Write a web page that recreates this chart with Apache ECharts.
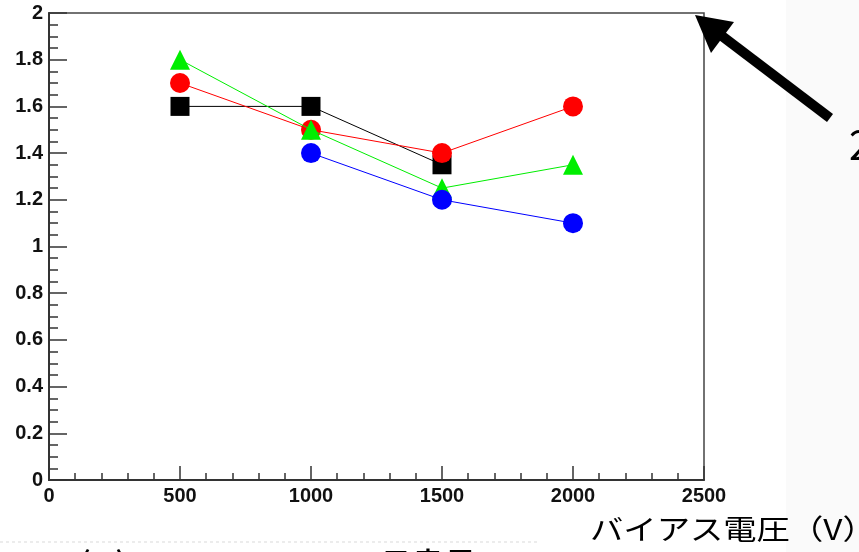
<!DOCTYPE html>
<html>
<head>
<meta charset="utf-8">
<script src="https://cdn.jsdelivr.net/npm/echarts@6/dist/echarts.min.js"></script>
<style>
html,body{margin:0;padding:0;background:#fff;}
#chart{width:859px;height:552px;}
</style>
</head>
<body>
<div id="chart"></div>
<script>
var biasVoltage = [500, 1000, 1500, 2000];
var seriesBlack = [1.6, 1.6, 1.35, null];
var seriesRed = [1.7, 1.5, 1.4, 1.6];
var seriesGreen = [1.8, 1.5, 1.25, 1.35];
var seriesBlue = [null, 1.4, 1.2, 1.1];
var xTicks = [0, 500, 1000, 1500, 2000, 2500];
var yTicks = [0, 0.2, 0.4, 0.6, 0.8, 1, 1.2, 1.4, 1.6, 1.8, 2];
var xAxisTitle = 'バイアス電圧（V）';
var yAxisTitle = 'FWHM(%)';

function pairs(vals) {
  var out = [];
  for (var i = 0; i < biasVoltage.length; i++) {
    if (vals[i] !== null) out.push([biasVoltage[i], vals[i]]);
  }
  return out;
}

function mkSeries(name, vals, color, symbol, size, z) {
  return {
    name: name, type: 'line', data: pairs(vals),
    symbol: symbol, symbolSize: size, z: z,
    lineStyle: {color: color, width: 1},
    itemStyle: {color: color},
    emphasis: {disabled: true}
  };
}

var chart = echarts.init(document.getElementById('chart'), null, {renderer: 'canvas'});
var labelFont = {fontFamily: 'Liberation Sans, Arial, sans-serif', fontWeight: 'bold', fontSize: 20, color: '#111'};

chart.setOption({
  animation: false,
  backgroundColor: '#fff',
  grid: {left: 49, right: 155, top: 13, bottom: 72, show: true, borderColor: '#444', borderWidth: 1.5, backgroundColor: 'transparent'},
  xAxis: {
    type: 'value', min: xTicks[0], max: xTicks[xTicks.length - 1], interval: 500,
    axisLine: {show: true, onZero: false, lineStyle: {color: '#333', width: 2}},
    axisTick: {show: true, inside: true, length: 14, lineStyle: {color: '#333', width: 1.5}},
    minorTick: {show: true, splitNumber: 5, length: 7, lineStyle: {color: '#333', width: 1.5}},
    splitLine: {show: false},
    axisLabel: Object.assign({margin: 6, formatter: function (v) { return String(v); }}, labelFont)
  },
  yAxis: {
    type: 'value', min: yTicks[0], max: yTicks[yTicks.length - 1], interval: 0.2,
    axisLine: {show: true, onZero: false, lineStyle: {color: '#333', width: 2}},
    axisTick: {show: true, inside: true, length: 18, lineStyle: {color: '#333', width: 1.5}},
    minorTick: {show: true, splitNumber: 4, length: 9, lineStyle: {color: '#333', width: 1.5}},
    splitLine: {show: false},
    axisLabel: Object.assign({margin: 6, formatter: function (v) { return String(v); }}, labelFont)
  },
  series: [
    mkSeries('black', seriesBlack, '#000000', 'rect', 19, 2),
    mkSeries('red', seriesRed, '#ff0000', 'circle', 20, 3),
    mkSeries('green', seriesGreen, '#00ee00', 'triangle', 20, 4),
    mkSeries('blue', seriesBlue, '#0000ff', 'circle', 20, 5)
  ],
  graphic: [
    {type: 'rect', shape: {x: 786, y: 0, width: 73, height: 552}, style: {fill: '#fafafa'}, z: -10},
    {type: 'line', shape: {x1: 0, y1: 542, x2: 540, y2: 542}, style: {stroke: '#ececec', lineWidth: 2, lineDash: [3, 3]}, z: -10},
    {type: 'line', shape: {x1: 830, y1: 118, x2: 718, y2: 33}, style: {stroke: '#000', lineWidth: 10}},
    {type: 'polygon', shape: {points: [[695, 15], [734, 22], [711, 53]]}, style: {fill: '#000'}},
    {type: 'text', x: 849, y: 125, style: {text: '2', font: '40px "Noto Sans CJK JP", sans-serif', fill: '#000'}},
    {type: 'text', x: 590, y: 515, scaleX: 1.19, style: {text: xAxisTitle, font: '28px "Noto Sans CJK JP", sans-serif', fill: '#000'}},
    {type: 'text', x: 0, y: 548, style: {text: yAxisTitle, font: 'bold 26px "Noto Sans CJK JP", sans-serif', fill: '#000'}},
    {type: 'text', x: 383, y: 548, style: {text: '■ 実 圧', font: 'bold 26px "Noto Sans CJK JP", sans-serif', fill: '#000'}},
    {type: 'text', x: 307, y: -26, style: {text: '分解能特性', font: 'bold 24px "Noto Sans CJK JP", sans-serif', fill: '#000'}}
  ]
});
</script>
</body>
</html>
